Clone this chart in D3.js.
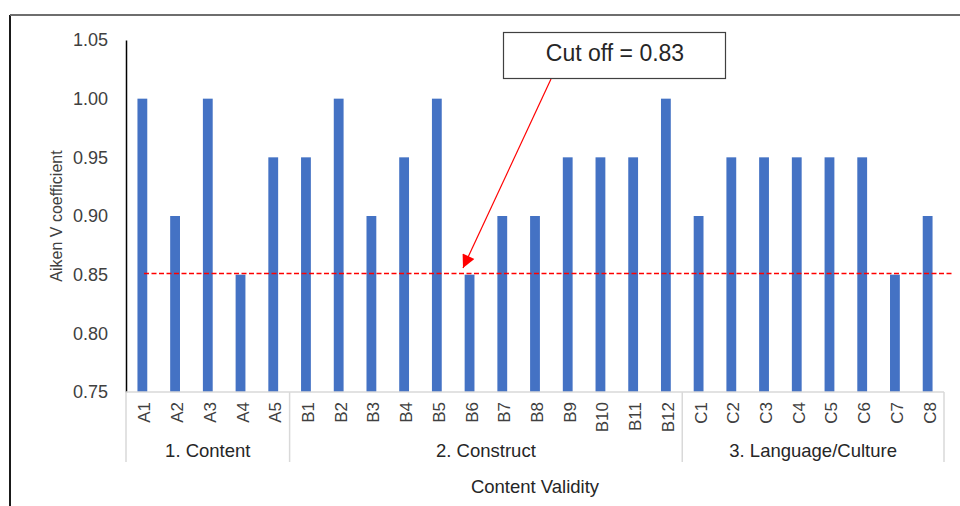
<!DOCTYPE html>
<html>
<head>
<meta charset="utf-8">
<script src="https://cdn.jsdelivr.net/npm/d3@7"></script>
<style>
  body { margin: 0; background: #fff; }
  svg { display: block; font-family: "Liberation Sans", Arial, sans-serif; }
</style>
</head>
<body>
<svg id="chart" width="960" height="506"></svg>
<script>
const items = ['A1','A2','A3','A4','A5',
    'B1','B2','B3','B4','B5','B6','B7','B8','B9','B10','B11','B12',
    'C1','C2','C3','C4','C5','C6','C7','C8'];

const values = [1.00, 0.90, 1.00, 0.85, 0.95,
    0.95, 1.00, 0.90, 0.95, 1.00, 0.85, 0.90, 0.90, 0.95, 0.95, 0.95, 1.00,
    0.90, 0.95, 0.95, 0.95, 0.95, 0.95, 0.85, 0.90];

const groups = ['1. Content', '2. Construct', '3. Language/Culture'];
const groupSizes = [5, 12, 8];

const yTicks = [0.75, 0.80, 0.85, 0.90, 0.95, 1.00, 1.05];
const cutoffValue = 0.851;
const cutoffLabel = 'Cut off = 0.83';

const svg = d3.select('#chart');

// outer frame (left and top edges visible)
svg.append('line').attr('x1', 10).attr('x2', 10).attr('y1', 15).attr('y2', 506)
    .attr('stroke', '#1a1a1a').attr('stroke-width', 2);
svg.append('line').attr('x1', 10).attr('x2', 960).attr('y1', 15).attr('y2', 15)
    .attr('stroke', '#6e6e6e').attr('stroke-width', 2);

const plotLeft = 126, plotRight = 944, plotTop = 40, plotBottom = 392;

const xScale = d3.scaleBand()
    .domain(items)
    .range([plotLeft, plotRight])
    .paddingInner(0.7)
    .paddingOuter(0.35);

const yScale = d3.scaleLinear()
    .domain([0.75, 1.05])
    .range([plotBottom, plotTop]);

// bars
svg.append('g')
    .selectAll('rect')
    .data(items)
    .enter().append('rect')
    .attr('x', d => xScale(d))
    .attr('width', xScale.bandwidth())
    .attr('y', (d, i) => yScale(values[i]))
    .attr('height', (d, i) => plotBottom - yScale(values[i]))
    .style('fill', '#4472c4');

// y axis
const yAxis = svg.append('g')
    .attr('transform', `translate(${plotLeft},0)`)
    .call(d3.axisLeft(yScale).tickValues(yTicks).tickFormat(d3.format('.2f')).tickSize(0).tickPadding(18));
yAxis.select('.domain').attr('stroke', '#000').attr('stroke-width', 1.5);
yAxis.selectAll('text').attr('font-size', 18).attr('fill', '#404040')
    .attr('font-family', '"Liberation Sans", Arial, sans-serif');

svg.append('text')
    .attr('transform', `translate(62,${(plotTop + plotBottom) / 2}) rotate(-90)`)
    .attr('text-anchor', 'middle')
    .attr('font-size', 16)
    .attr('fill', '#404040')
    .text('Aiken V coefficient');

// x baseline
svg.append('line').attr('x1', plotLeft).attr('x2', plotRight).attr('y1', plotBottom).attr('y2', plotBottom)
    .attr('stroke', '#d9d9d9').attr('stroke-width', 1.5);

// item labels
svg.append('g')
    .selectAll('text')
    .data(items)
    .enter().append('text')
    .attr('transform', d => `translate(${xScale(d) + xScale.bandwidth() / 2 + 8},402) rotate(-90)`)
    .attr('text-anchor', 'end')
    .attr('font-size', 17)
    .attr('fill', '#404040')
    .text(d => d);

// group separators and labels
const step = xScale.step();
let start = 0;
const bounds = [plotLeft];
groups.forEach((g, gi) => {
    const x0 = plotLeft + start * step;
    const x1 = plotLeft + (start + groupSizes[gi]) * step;
    bounds.push(x1);
    svg.append('text')
        .attr('x', (x0 + x1) / 2)
        .attr('y', 457)
        .attr('text-anchor', 'middle')
        .attr('font-size', 18.5)
        .attr('fill', '#262626')
        .text(g);
    start += groupSizes[gi];
});
svg.append('g')
    .selectAll('line')
    .data(bounds)
    .enter().append('line')
    .attr('x1', d => d).attr('x2', d => d)
    .attr('y1', plotBottom).attr('y2', 462)
    .attr('stroke', '#d9d9d9').attr('stroke-width', 1.5);

svg.append('text')
    .attr('x', (plotLeft + plotRight) / 2)
    .attr('y', 493)
    .attr('text-anchor', 'middle')
    .attr('font-size', 18.5)
    .attr('fill', '#262626')
    .text('Content Validity');

// cutoff dashed line
svg.append('line')
    .attr('x1', 144).attr('x2', 952)
    .attr('y1', yScale(cutoffValue)).attr('y2', yScale(cutoffValue))
    .style('stroke', '#ff0000').style('stroke-width', 1.3)
    .style('stroke-dasharray', '5,2.5');

// annotation box + arrow
svg.append('defs').append('marker')
    .attr('id', 'arrow')
    .attr('viewBox', '0 0 10 10')
    .attr('refX', 10).attr('refY', 5)
    .attr('markerWidth', 15).attr('markerHeight', 13)
    .attr('markerUnits', 'userSpaceOnUse')
    .attr('orient', 'auto')
    .append('path').attr('d', 'M0,0 L10,5 L0,10 Z').attr('fill', '#ff0000');

svg.append('line')
    .attr('x1', 551).attr('y1', 79)
    .attr('x2', 463).attr('y2', 268)
    .attr('stroke', '#ff0000').attr('stroke-width', 1.2)
    .attr('marker-end', 'url(#arrow)');

svg.append('rect')
    .attr('x', 503.5).attr('y', 32.5)
    .attr('width', 222).attr('height', 46)
    .attr('fill', '#fff').attr('stroke', '#404040').attr('stroke-width', 1.2);

svg.append('text')
    .attr('x', 615).attr('y', 61)
    .attr('text-anchor', 'middle')
    .attr('font-size', 23)
    .attr('fill', '#262626')
    .text(cutoffLabel);
</script>
</body>
</html>
